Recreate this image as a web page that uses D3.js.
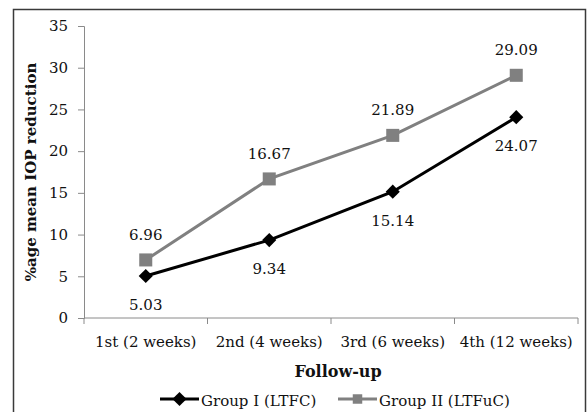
<!DOCTYPE html>
<html>
<head>
<meta charset="utf-8">
<script src="https://cdn.jsdelivr.net/npm/d3@7"></script>
<style>
  html, body { margin: 0; padding: 0; background: #fff; }
  svg { display: block; }
  text { font-family: "DejaVu Serif", serif; fill: #111; }
</style>
</head>
<body>
<svg id="chart" width="588" height="412"></svg>
<script>
// Follow-up visits and percentage mean IOP reduction per group
const categories = ["1st (2 weeks)", "2nd (4 weeks)", "3rd (6 weeks)", "4th (12 weeks)"];
const groupI = [5.03, 9.34, 15.14, 24.07];
const groupII = [6.96, 16.67, 21.89, 29.09];
const yTicks = [0, 5, 10, 15, 20, 25, 30, 35];
const seriesNames = ["Group I (LTFC)", "Group II (LTFuC)"];

const svg = d3.select("#chart");
const x0 = 84, x1 = 578, y0 = 318, y1 = 26;

// outer frame
svg.append("rect")
  .attr("x", 13.5).attr("y", 9.5)
  .attr("width", 572).attr("height", 420)
  .attr("fill", "none").attr("stroke", "#3a3a3a").attr("stroke-width", 1.5);

const x = d3.scaleBand().domain(categories).range([x0, x1]);
const y = d3.scaleLinear().domain([0, 35]).range([y0, y1]);
const cx = d => x(d) + x.bandwidth() / 2;

// y axis
const yAxis = svg.append("g")
  .attr("transform", `translate(${x0},0)`)
  .call(d3.axisLeft(y).tickValues(yTicks).tickSize(6).tickPadding(10));
yAxis.selectAll("text").attr("font-size", 15).attr("fill", "#111")
  .attr("font-family", "DejaVu Serif");
yAxis.selectAll("line, path").attr("stroke", "#8a8a8a");

// x axis with ticks on band edges
const xAxisG = svg.append("g").attr("transform", `translate(0,${y0})`);
xAxisG.append("line").attr("x1", x0).attr("x2", x1)
  .attr("stroke", "#8a8a8a");
const edges = categories.map(c => x(c)).concat([x1]);
xAxisG.selectAll("line.tk").data(edges).join("line").attr("class", "tk")
  .attr("x1", d => d).attr("x2", d => d).attr("y1", 0).attr("y2", 6)
  .attr("stroke", "#8a8a8a");
xAxisG.selectAll("text").data(categories).join("text")
  .attr("x", d => cx(d)).attr("y", 29)
  .attr("text-anchor", "middle").attr("font-size", 15)
  .text(d => d);

// axis titles
svg.append("text")
  .attr("x", 338).attr("y", 377)
  .attr("text-anchor", "middle").attr("font-size", 16).attr("font-weight", "bold")
  .text("Follow-up");
svg.append("text")
  .attr("transform", `translate(36,${(y0 + y1) / 2}) rotate(-90)`)
  .attr("text-anchor", "middle").attr("font-size", 15).attr("font-weight", "bold")
  .text("%age mean IOP reduction");

const line = d3.line().x((d, i) => cx(categories[i])).y(d => y(d));
const diamond = d3.symbol().type(d3.symbolSquare).size(100);
const square = d3.symbol().type(d3.symbolSquare).size(170);

// Group II (grey, squares)
svg.append("path").datum(groupII).attr("d", line)
  .attr("fill", "none").attr("stroke", "#808080").attr("stroke-width", 3);
svg.selectAll("path.sq").data(groupII).join("path").attr("class", "sq")
  .attr("d", square)
  .attr("transform", (d, i) => `translate(${cx(categories[i])},${y(d)})`)
  .attr("fill", "#808080");
svg.selectAll("text.l2").data(groupII).join("text").attr("class", "l2")
  .attr("x", (d, i) => cx(categories[i])).attr("y", d => y(d) - 20)
  .attr("text-anchor", "middle").attr("font-size", 15)
  .text(d => d.toFixed(2));

// Group I (black, diamonds)
svg.append("path").datum(groupI).attr("d", line)
  .attr("fill", "none").attr("stroke", "#000").attr("stroke-width", 3);
svg.selectAll("path.dm").data(groupI).join("path").attr("class", "dm")
  .attr("d", diamond)
  .attr("transform", (d, i) => `translate(${cx(categories[i])},${y(d)}) rotate(45)`)
  .attr("fill", "#000");
svg.selectAll("text.l1").data(groupI).join("text").attr("class", "l1")
  .attr("x", (d, i) => cx(categories[i])).attr("y", d => y(d) + 34)
  .attr("text-anchor", "middle").attr("font-size", 15)
  .text(d => d.toFixed(2));

// legend
const leg = svg.append("g").attr("transform", "translate(0,399)");
const items = [
  { name: seriesNames[0], x: 160, color: "#000", sym: diamond, rot: 45 },
  { name: seriesNames[1], x: 338, color: "#808080", sym: d3.symbol().type(d3.symbolSquare).size(90), rot: 0 }
];
items.forEach(it => {
  leg.append("line").attr("x1", it.x).attr("x2", it.x + 39)
    .attr("stroke", it.color).attr("stroke-width", 3);
  leg.append("path").attr("d", it.sym)
    .attr("transform", `translate(${it.x + 19.5},0) rotate(${it.rot})`)
    .attr("fill", it.color);
  leg.append("text").attr("x", it.x + 41).attr("y", 6.5)
    .attr("font-size", 15).text(it.name);
});
</script>
</body>
</html>
